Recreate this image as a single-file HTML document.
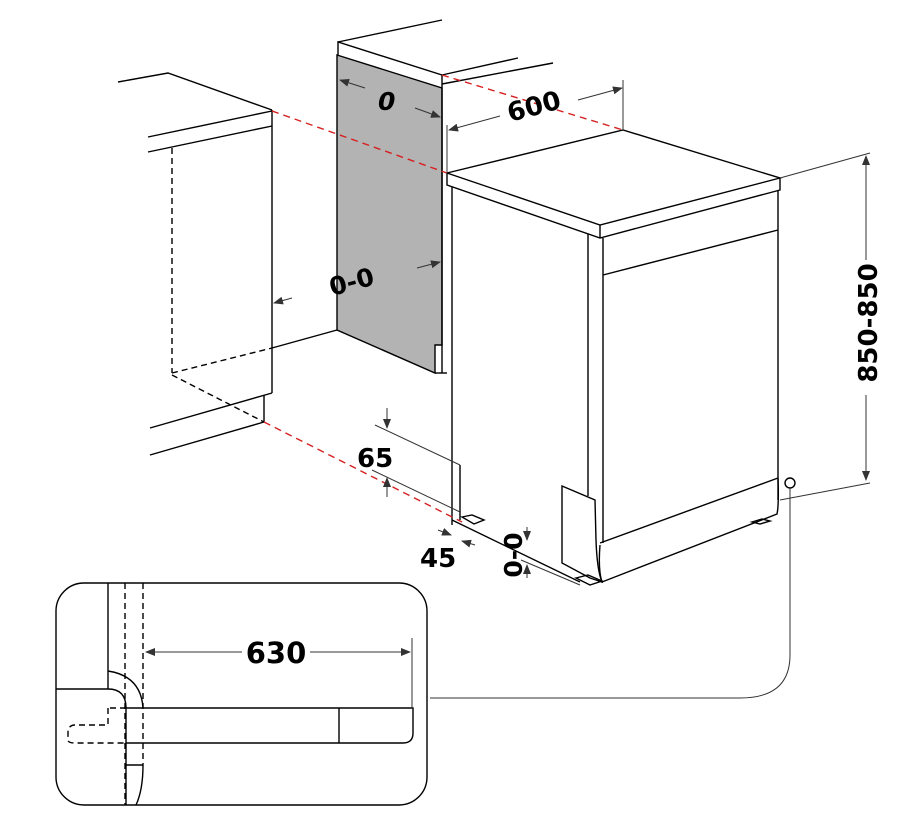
<!DOCTYPE html>
<html><head><style>
html,body{margin:0;padding:0;background:#fff;}
svg{display:block;}
text{font-family:"DejaVu Sans","Liberation Sans",sans-serif;font-weight:bold;fill:#000;}
</style></head><body>
<svg width="903" height="827" viewBox="0 0 903 827" xmlns="http://www.w3.org/2000/svg">
<defs>
<marker id="a" markerWidth="10" markerHeight="8" refX="9" refY="4" orient="auto" markerUnits="userSpaceOnUse">
<path d="M0,0 L10,4 L0,8 z" fill="#333"/></marker>
</defs>
<g stroke="#000" stroke-width="1.4" fill="none">
<polyline points="118,82 168,73 272,110"/>
<line x1="148" y1="137" x2="272" y2="111"/>
<line x1="148" y1="152" x2="272" y2="126"/>
<line x1="272" y1="110" x2="272" y2="393"/>
<line x1="172" y1="148" x2="172" y2="373" stroke-dasharray="6,4"/>
<line x1="172" y1="373" x2="272" y2="348" stroke-dasharray="6,4"/>
<line x1="272" y1="348" x2="337" y2="330"/>
<line x1="172" y1="375" x2="264" y2="422" stroke-dasharray="6,4"/>
<line x1="264" y1="395" x2="264" y2="422"/>
<line x1="150" y1="428" x2="272" y2="393"/>
<line x1="150" y1="455" x2="264" y2="422"/>
<polygon points="337,55 442,88 442,345 435,345 435,373 337,330" fill="#b3b3b3"/>
<polyline points="338,55 338,42 442,75 442,88"/>
<line x1="338" y1="42" x2="442" y2="20"/>
<line x1="442" y1="75" x2="518" y2="58"/>
<line x1="442" y1="84" x2="553" y2="63"/>
<line x1="442" y1="88" x2="442" y2="373"/>
<line x1="435" y1="373" x2="447" y2="373"/>
<polygon points="447,173 623,130 780,178 600,225" fill="#fff"/>
<polyline points="447,173 447,185 600,238 780,190 780,178"/>
<line x1="600" y1="225" x2="600" y2="238"/>
<line x1="452" y1="187" x2="452" y2="525"/>
<line x1="588" y1="234" x2="588" y2="496"/>
<line x1="603" y1="238" x2="603" y2="543"/>
<line x1="778" y1="190" x2="778" y2="500"/>
<line x1="603" y1="275" x2="778" y2="230"/>
<line x1="600" y1="543" x2="778" y2="478"/>
<path d="M600,545 Q598,570 602,582 L777,514 Q779,505 778,478"/>
<path d="M562,486 L595,500 L596,540 Q597,570 602,582 L590,578 L562,563 Z" fill="#fff"/>
<line x1="460" y1="465" x2="460" y2="520"/>
<line x1="452" y1="520" x2="580" y2="582"/>
<path d="M462,517 l10,-2 l12,5 l-10,4 z"/>
<path d="M576,578 l12,-3 l14,6 l-12,4 z"/>
<path d="M752,522 l10,-3 l8,2 l-10,3 z"/>
<circle cx="790" cy="483" r="5" fill="#fff"/>
<g stroke="#d62020" stroke-dasharray="7,5">
<line x1="272" y1="111" x2="447" y2="173"/>
<line x1="442" y1="75" x2="623" y2="130"/>
<line x1="264" y1="422" x2="462" y2="522"/>
</g>
</g>
<g stroke="#333" stroke-width="1" fill="none">
<line x1="623" y1="130" x2="623" y2="80"/>
<line x1="447" y1="173" x2="447" y2="125"/>
<line x1="578" y1="100" x2="622" y2="88" marker-end="url(#a)"/>
<line x1="500" y1="116" x2="449" y2="130" marker-end="url(#a)"/>
<line x1="365" y1="88" x2="340" y2="80" marker-end="url(#a)"/>
<line x1="415" y1="108" x2="440" y2="117" marker-end="url(#a)"/>
<line x1="417" y1="268" x2="440" y2="262" marker-end="url(#a)"/>
<line x1="292" y1="298" x2="274" y2="303" marker-end="url(#a)"/>
<line x1="780" y1="178" x2="870" y2="153"/>
<line x1="780" y1="500" x2="870" y2="483"/>
<line x1="866" y1="260" x2="866" y2="156" marker-end="url(#a)"/>
<line x1="866" y1="395" x2="866" y2="480" marker-end="url(#a)"/>
<line x1="375" y1="425" x2="460" y2="465"/>
<line x1="372" y1="470" x2="460" y2="512"/>
<line x1="387" y1="408" x2="387" y2="428" marker-end="url(#a)"/>
<line x1="387" y1="497" x2="387" y2="478" marker-end="url(#a)"/>
<line x1="438" y1="530" x2="451" y2="535" marker-end="url(#a)"/>
<line x1="475" y1="545" x2="462" y2="541" marker-end="url(#a)"/>
<line x1="527" y1="527" x2="527" y2="540" marker-end="url(#a)"/>
<line x1="527" y1="578" x2="527" y2="565" marker-end="url(#a)"/>
<line x1="521" y1="560" x2="580" y2="585"/>
<path d="M790,488 L790,655 Q790,698 740,698 L430,698"/>
</g>
<text x="510" y="122" font-size="26" transform="rotate(-15 510 122)">600</text>
<text x="378" y="110" font-size="25" font-style="italic">0</text>
<text x="332" y="296" font-size="25" transform="rotate(-15 332 296)">0-0</text>
<text x="877" y="323" font-size="26" transform="rotate(-90 877 323)" text-anchor="middle">850-850</text>
<text x="357" y="467" font-size="26">65</text>
<text x="420" y="567" font-size="26">45</text>
<text x="522" y="555" font-size="25" transform="rotate(-90 522 555)" text-anchor="middle">0-0</text>
<g stroke="#000" stroke-width="1.4" fill="none">
<rect x="56" y="583" width="371" height="222" rx="28" fill="#fff"/>
<line x1="108" y1="583" x2="108" y2="689"/>
<path d="M56,689 L108,689 Q126,689 126,708 L126,805"/>
<path d="M108,671 Q141,676 143,708"/>
<line x1="125" y1="583" x2="125" y2="805" stroke-dasharray="6,4"/>
<line x1="143" y1="583" x2="143" y2="765" stroke-dasharray="6,4"/>
<path d="M143,765 Q143,790 136,805"/>
<line x1="126" y1="765" x2="143" y2="765"/>
<path d="M126,708 L413,708 L413,733 Q413,743 403,743 L126,743"/>
<line x1="339" y1="708" x2="339" y2="743"/>
<path d="M108,708 L108,725 L75,725 Q68,725 68,733 L68,740 Q68,743 75,743 L126,743" stroke-dasharray="6,4"/>
<line x1="126" y1="708" x2="108" y2="708" stroke-dasharray="6,4"/>
</g>
<g stroke="#333" stroke-width="1">
<line x1="412" y1="638" x2="412" y2="708"/>
<line x1="242" y1="652" x2="146" y2="652" marker-end="url(#a)"/>
<line x1="310" y1="652" x2="410" y2="652" marker-end="url(#a)"/>
</g>
<text x="276" y="663" font-size="29" text-anchor="middle">630</text>
</svg>
</body></html>
